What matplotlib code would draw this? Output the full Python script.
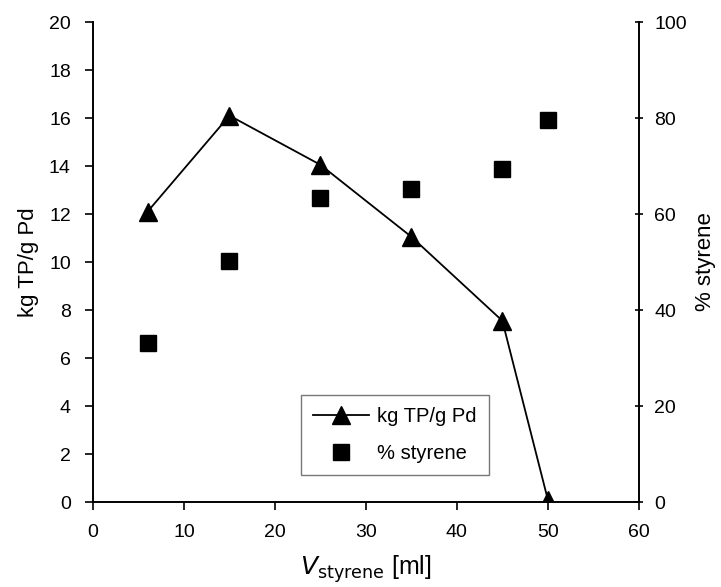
import matplotlib
matplotlib.use("Agg")
import matplotlib.pyplot as plt
from matplotlib.ticker import MultipleLocator

plt.rcParams['font.family'] = ['Liberation Sans', 'DejaVu Sans']

v_styrene = [6, 15, 25, 35, 45, 50]
kg_tp = [12.1, 16.1, 14.05, 11.05, 7.55, 0.1]
pct_styrene = [33.2, 50.2, 63.3, 65.3, 69.4, 79.5]

fig = plt.figure(figsize=(7.21, 5.87), dpi=100)
ax = fig.add_axes([0.129, 0.1448, 0.757, 0.8177])
ax2 = ax.twinx()

l1, = ax.plot(v_styrene, kg_tp, color='black', lw=1.3, marker='^', ms=13, label='kg TP/g Pd')
l2, = ax2.plot(v_styrene, pct_styrene, ls='none', color='black', marker='s', ms=11, label='% styrene')

ax.set_xlim(0, 60)
ax.set_ylim(0, 20)
ax2.set_ylim(0, 100)
ax.xaxis.set_major_locator(MultipleLocator(10))
ax.yaxis.set_major_locator(MultipleLocator(2))
ax2.yaxis.set_major_locator(MultipleLocator(20))

for a in (ax, ax2):
    a.spines['top'].set_visible(False)
    for s in a.spines.values():
        s.set_linewidth(1.2)
ax.tick_params(axis='x', labelsize=14, width=1.2, length=6, direction='out', pad=10)
ax.tick_params(axis='y', labelsize=14, width=1.2, length=6, direction='out', pad=10)
ax2.tick_params(axis='y', labelsize=14, width=1.2, length=6, direction='inout', pad=8)

ax.set_ylabel('kg TP/g Pd', fontsize=16, labelpad=7)
ax2.set_ylabel('% styrene', fontsize=16, labelpad=6)
ax.set_xlabel(r'$\mathit{V}$$_{\mathrm{styrene}}$ [ml]', fontsize=18, labelpad=9)

leg = ax.legend(handles=[l1, l2], loc='lower left', bbox_to_anchor=(0.362, 0.035),
                fontsize=14.5, frameon=True, fancybox=False, edgecolor='#555555',
                handlelength=2.8, borderpad=0.6, labelspacing=0.9, handletextpad=0.4)
leg.get_frame().set_linewidth(1.0)

fig.savefig('out.png', dpi=100)
